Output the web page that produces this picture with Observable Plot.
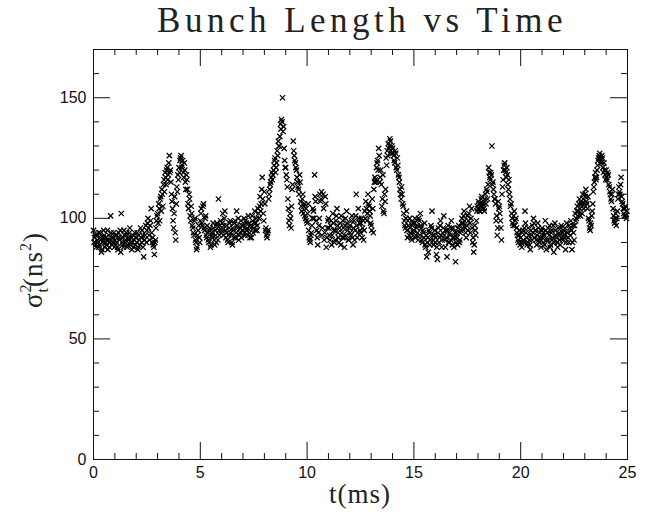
<!DOCTYPE html>
<html>
<head>
<meta charset="utf-8">
<script src="https://cdn.jsdelivr.net/npm/d3@7"></script>
<script src="https://cdn.jsdelivr.net/npm/@observablehq/plot@0.6"></script>
<style>
  html, body { margin: 0; padding: 0; background: #fff; }
</style>
</head>
<body>
<div id="chart"></div>
<script>
// sampling of the time axis (ms): two interleaved sample sets
const tStart = 0;
const tStep = 0.05;
const tOffsetB = 0.025;
// bunch length squared (ns^2), set A, one line per ms
const sigma2 = [
  95, 92, 89, 93, 90, 88, 94, 91, 87, 92, 93, 90, 89, 95, 91, 88, 101, 92, 90, 94,
  91, 89, 93, 87, 92, 95, 102, 90, 88, 93, 91, 94, 89, 92, 96, 90, 87, 93, 91, 89,
  92, 94, 88, 91, 96, 90, 93, 84, 91, 97, 95, 100, 93, 97, 104, 90, 89, 85, 91, 99,
  102, 106, 99, 109, 112, 105, 116, 119, 114, 121, 118, 126, 120, 110, 104, 96, 109, 91, 113, 118,
  121, 124, 126, 122, 119, 123, 115, 118, 112, 104, 108, 99, 102, 96, 93, 100, 90, 88, 95, 92,
  99, 104, 97, 106, 95, 101, 92, 94, 90, 96, 89, 93, 98, 91, 95, 90, 97, 108, 93, 99,
  95, 102, 97, 103, 92, 94, 90, 96, 99, 93, 89, 95, 98, 92, 103, 96, 91, 94, 99, 97,
  95, 100, 93, 98, 96, 101, 94, 97, 92, 99, 96, 103, 98, 95, 104, 100, 109, 106, 117, 102,
  111, 95, 93, 94, 108, 112, 115, 119, 118, 122, 125, 121, 128, 132, 130, 139, 141, 150, 138, 124,
  121, 116, 108, 99, 102, 96, 112, 132, 126, 123, 120, 115, 112, 118, 107, 103, 110, 105, 101, 104,
  98, 106, 92, 90, 94, 100, 103, 118, 107, 95, 89, 97, 110, 108, 93, 110, 91, 109, 88, 96,
  100, 93, 97, 89, 102, 95, 91, 99, 104, 94, 90, 98, 101, 92, 96, 88, 100, 103, 95, 91,
  97, 93, 101, 89, 99, 95, 110, 92, 104, 98, 94, 100, 96, 91, 103, 107, 99, 110, 105, 101,
  97, 108, 94, 115, 116, 121, 124, 129, 115, 120, 105, 118, 102, 107, 125, 128, 131, 130, 132, 127,
  129, 126, 123, 127, 120, 122, 117, 112, 108, 110, 105, 99, 96, 103, 92, 97, 100, 94, 91, 98,
  95, 100, 93, 97, 91, 99, 102, 96, 90, 94, 98, 88, 84, 92, 95, 89, 97, 103, 91, 93,
  90, 85, 83, 96, 92, 99, 88, 94, 101, 91, 95, 84, 97, 90, 93, 99, 89, 96, 92, 82,
  94, 89, 97, 91, 95, 100, 98, 103, 96, 92, 101, 99, 105, 94, 104, 90, 86, 97, 93, 103,
  104, 106, 103, 108, 105, 107, 103, 110, 112, 108, 121, 117, 119, 130, 115, 110, 108, 99, 93, 107,
  105, 99, 91, 113, 120, 123, 119, 121, 114, 116, 108, 106, 100, 97, 103, 99, 96, 93, 90, 95,
  92, 88, 95, 90, 103, 94, 89, 96, 91, 87, 93, 97, 100, 92, 95, 89, 98, 91, 94, 88,
  96, 90, 93, 99, 87, 94, 91, 97, 89, 95, 92, 86, 98, 93, 90, 96, 94, 89, 97, 91,
  95, 92, 87, 98, 94, 90, 96, 99, 87, 97, 91, 102, 100, 105, 103, 108, 101, 106, 110, 104,
  110, 112, 106, 109, 99, 95, 97, 103, 111, 115, 119, 117, 122, 125, 127, 124, 126, 121, 123, 118,
  120, 116, 118, 113, 110, 107, 112, 101, 98, 102, 100, 108, 113, 110, 117, 107, 104, 101, 105, 100
];
// bunch length squared (ns^2), set B (offset by half a step), one line per ms
const sigma2B = [
  90, 93, 88, 91, 94, 89, 92, 86, 90, 95, 88, 92, 91, 87, 93, 90, 94, 89, 92, 88,
  93, 90, 88, 94, 91, 86, 92, 89, 95, 90, 93, 88, 91, 94, 89, 92, 90, 88, 94, 92,
  90, 87, 93, 89, 92, 95, 88, 91, 93, 90, 98, 96, 91, 99, 94, 92, 88, 90, 96, 101,
  98, 104, 108, 103, 110, 114, 111, 117, 120, 116, 123, 119, 115, 107, 99, 102, 94, 106, 111, 116,
  119, 125, 121, 124, 117, 120, 112, 116, 106, 110, 101, 105, 97, 94, 99, 91, 87, 93, 97, 90,
  102, 98, 105, 96, 100, 93, 97, 91, 95, 88, 94, 92, 96, 89, 93, 98, 91, 95, 97, 94,
  98, 93, 100, 95, 97, 91, 93, 98, 94, 90, 96, 92, 99, 94, 97, 100, 93, 96, 92, 95,
  97, 94, 99, 95, 93, 98, 92, 96, 101, 94, 98, 95, 100, 97, 102, 105, 103, 112, 108, 99,
  106, 96, 92, 95, 110, 114, 117, 116, 120, 124, 119, 123, 126, 130, 134, 137, 140, 136, 129, 121,
  118, 113, 104, 97, 100, 105, 114, 128, 124, 121, 117, 113, 110, 115, 105, 108, 102, 106, 100, 99,
  102, 95, 91, 93, 97, 104, 100, 109, 99, 92, 94, 100, 107, 111, 96, 104, 94, 106, 92, 99,
  96, 91, 99, 93, 98, 90, 95, 101, 97, 92, 96, 89, 94, 99, 92, 97, 93, 98, 91, 96,
  94, 99, 92, 96, 91, 101, 97, 94, 100, 95, 98, 92, 99, 95, 100, 104, 102, 106, 103, 98,
  95, 104, 112, 117, 115, 123, 120, 126, 117, 114, 108, 103, 110, 112, 122, 126, 129, 133, 128, 130,
  127, 124, 128, 121, 125, 118, 115, 110, 113, 106, 102, 97, 100, 95, 99, 93, 96, 92, 97, 94,
  98, 92, 96, 94, 100, 93, 97, 91, 95, 92, 89, 93, 90, 86, 94, 91, 96, 93, 89, 95,
  92, 88, 94, 90, 97, 93, 91, 96, 93, 88, 92, 95, 90, 94, 91, 96, 92, 88, 94, 90,
  92, 96, 90, 94, 98, 96, 101, 99, 94, 97, 95, 102, 98, 100, 96, 92, 89, 95, 99, 105,
  107, 103, 105, 109, 106, 104, 108, 106, 111, 114, 119, 116, 118, 114, 112, 108, 106, 101, 96, 104,
  102, 96, 110, 116, 122, 120, 117, 118, 112, 110, 105, 102, 98, 101, 97, 100, 94, 91, 93, 89,
  90, 94, 91, 96, 98, 92, 90, 93, 89, 95, 91, 94, 98, 95, 91, 93, 96, 90, 92, 95,
  92, 94, 89, 95, 91, 96, 93, 88, 94, 91, 97, 90, 95, 92, 88, 93, 91, 96, 92, 94,
  93, 96, 90, 94, 92, 97, 93, 95, 90, 94, 97, 99, 103, 101, 106, 104, 107, 102, 108, 106,
  109, 107, 104, 100, 96, 98, 101, 106, 113, 117, 116, 120, 124, 126, 125, 123, 125, 119, 120, 116,
  117, 119, 114, 111, 108, 110, 104, 99, 100, 97, 103, 110, 111, 114, 109, 106, 102, 104, 101, 103
];

const xMajor = [0, 5, 10, 15, 20, 25];
const xMinor = [1, 2, 3, 4, 6, 7, 8, 9, 11, 12, 13, 14, 16, 17, 18, 19, 21, 22, 23, 24];
const yMajor = [0, 50, 100, 150];
const yMinor = [10, 20, 30, 40, 60, 70, 80, 90, 110, 120, 130, 140, 160];
const xTickLabels = ["0", "5", "10", "15", "20", "25"];
const yTickLabels = ["0", "50", "100", "150"];
const xDomain = [0, 25];
const yDomain = [0, 170];

const data = sigma2.map((v, i) => ({t: tStart + i * tStep, v}))
  .concat(sigma2B.map((v, i) => ({t: tStart + tOffsetB + i * tStep, v})));

const W = 656, H = 517;
const mL = 93, mR = 29, mT = 49, mB = 58;
const pw = W - mL - mR, ph = H - mT - mB;
const majLen = 17, minLen = 6;
const ink = "#111";

const plot = Plot.plot({
  width: W,
  height: H,
  marginLeft: mL,
  marginRight: mR,
  marginTop: mT,
  marginBottom: mB,
  x: {domain: xDomain, axis: null},
  y: {domain: yDomain, axis: null},
  style: {background: "#fff"},
  marks: [
    Plot.dot(data, {x: "t", y: "v", symbol: "times", r: 2.5, stroke: "#000", strokeWidth: 1.25}),
    Plot.tickX(xMajor, {x: d => d, insetTop: ph - majLen, stroke: ink}),
    Plot.tickX(xMinor, {x: d => d, insetTop: ph - minLen, stroke: ink}),
    Plot.tickX(xMajor, {x: d => d, insetBottom: ph - majLen, stroke: ink}),
    Plot.tickX(xMinor, {x: d => d, insetBottom: ph - minLen, stroke: ink}),
    Plot.tickY(yMajor, {y: d => d, insetRight: pw - majLen, stroke: ink}),
    Plot.tickY(yMinor, {y: d => d, insetRight: pw - minLen, stroke: ink}),
    Plot.tickY(yMajor, {y: d => d, insetLeft: pw - majLen, stroke: ink}),
    Plot.tickY(yMinor, {y: d => d, insetLeft: pw - minLen, stroke: ink}),
    Plot.frame({stroke: ink, strokeWidth: 1}),
    Plot.text(xMajor, {x: d => d, frameAnchor: "bottom", dy: 18, text: (d, i) => xTickLabels[i],
      fontSize: 16, fontFamily: "Liberation Sans", fill: ink}),
    Plot.text(yMajor, {y: d => d, frameAnchor: "left", dx: -7, textAnchor: "end", text: (d, i) => yTickLabels[i],
      fontSize: 16, fontFamily: "Liberation Sans", fill: ink})
  ]
});

document.getElementById("chart").appendChild(plot);

const svg = d3.select(plot);
svg.append("text")
  .attr("x", mL + pw / 2 + 2)
  .attr("y", 32)
  .attr("text-anchor", "middle")
  .attr("font-family", "Liberation Serif")
  .attr("font-size", 35)
  .attr("letter-spacing", 4.5)
  .attr("fill", "#222")
  .text("Bunch Length vs Time");
svg.append("text")
  .attr("x", mL + pw / 2)
  .attr("y", 503)
  .attr("text-anchor", "middle")
  .attr("font-family", "Liberation Serif")
  .attr("font-size", 27)
  .attr("letter-spacing", 1)
  .attr("fill", "#222")
  .text("t(ms)");
const yl = svg.append("text")
  .attr("transform", "translate(42,270) rotate(-90)")
  .attr("text-anchor", "middle")
  .attr("font-family", "Liberation Serif")
  .attr("font-size", 27)
  .attr("letter-spacing", 1)
  .attr("fill", "#222");
yl.append("tspan").text("σ");
yl.append("tspan").attr("font-size", 16).attr("dy", -11).text("2");
yl.append("tspan").attr("font-size", 16).attr("dx", -9).attr("dy", 17).text("t");
yl.append("tspan").attr("dy", -6).text("(ns");
yl.append("tspan").attr("font-size", 16).attr("dy", -11).text("2");
yl.append("tspan").attr("dy", 11).text(")");
</script>
</body>
</html>
